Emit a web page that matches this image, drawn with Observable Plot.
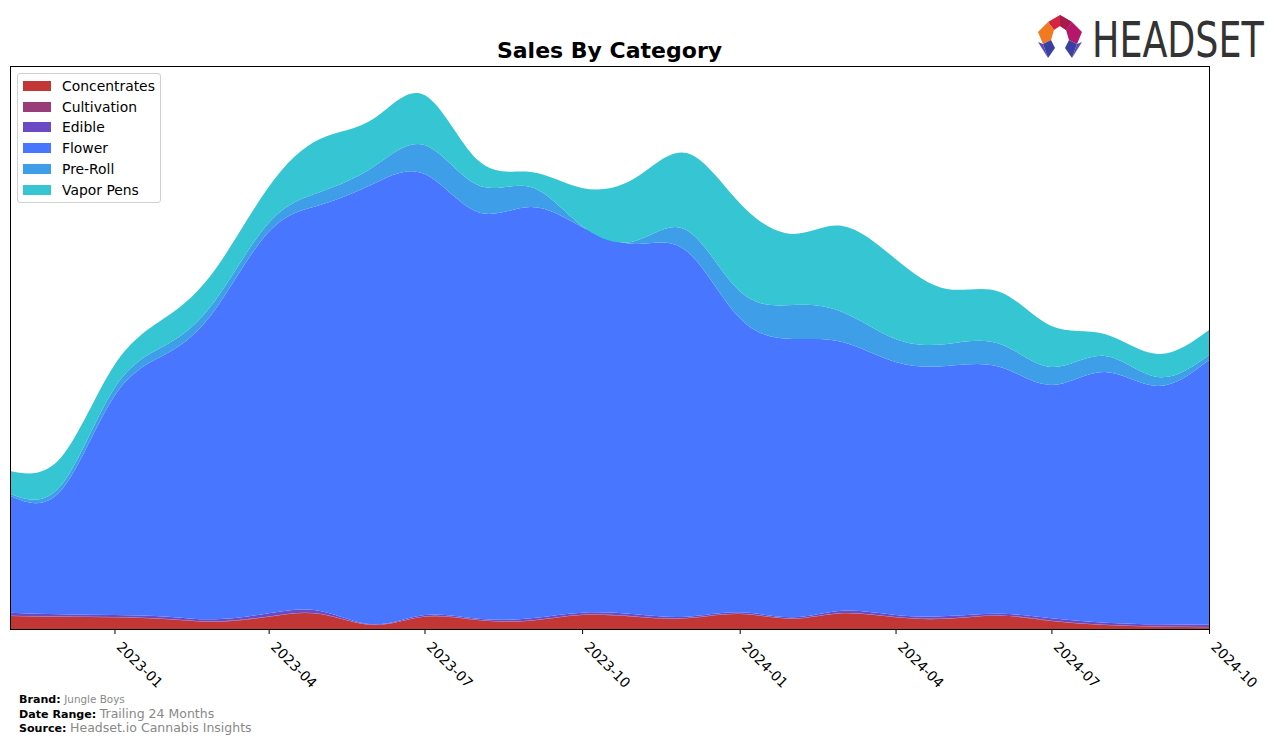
<!DOCTYPE html>
<html>
<head>
<meta charset="utf-8">
<script src="https://cdn.jsdelivr.net/npm/d3@7"></script>
<script src="https://cdn.jsdelivr.net/npm/@observablehq/plot@0.6"></script>
<style>
  html, body { margin: 0; padding: 0; background: #fff; }
  #wrap { position: relative; width: 1276px; height: 743px; font-family: "DejaVu Sans", sans-serif; overflow: hidden; }
  #chart { position: absolute; left: 0; top: 0; }
  #title { position: absolute; left: 10px; width: 1199px; top: 39px; line-height: 24px; text-align: center; font-weight: bold; font-size: 22px; color: #000; }
  #legend { position: absolute; left: 17px; top: 73px; width: 142px; height: 128px; border: 1px solid #d0d0d0; border-radius: 3px; background: rgba(255,255,255,0.85); }
  .lg-row { position: absolute; left: 5px; height: 16px; font-size: 13.9px; line-height: 16px; color: #000; white-space: nowrap; }
  .lg-sw { position: absolute; left: 0; top: 3px; width: 28px; height: 10px; }
  .lg-tx { position: absolute; left: 39px; top: 0; }
  #footer { position: absolute; left: 19px; top: 693px; font-size: 11.1px; line-height: 13.5px; color: #000; }
  #footer b { font-weight: bold; }
  #footer .g { color: #888; }
  #logo { position: absolute; left: 1030px; top: 8px; }
</style>
</head>
<body>
<div id="wrap">
  <div id="chart"></div>
  <div id="title">Sales By Category</div>
  <div id="legend"></div>
  <div id="footer">
    <div><b>Brand:</b> <span class="g" style="font-size:10.4px">Jungle Boys</span></div>
    <div><b>Date Range:</b> <span class="g" style="font-size:12.5px">Trailing 24 Months</span></div>
    <div><b>Source:</b> <span class="g" style="font-size:12.5px">Headset.io Cannabis Insights</span></div>
  </div>
  <svg id="logo" width="246" height="60" viewBox="0 0 246 60">
    <g transform="translate(6,4)">
      <polygon points="12,10 24,3 36,10 30,18 24,14 18,18" fill="#d4243f"/>
      <polygon points="24,3 36,10 30,18 24,14" fill="#a61c4f"/>
      <polygon points="36,10 46,20 41,32 33,28 30,18" fill="#b5186b"/>
      <polygon points="12,10 18,18 15,28 7,32 2,20" fill="#f07a22"/>
      <polygon points="7,32 15,28 19,36 12,46" fill="#3b3f9e"/>
      <polygon points="2,30 7,32 12,46" fill="#5a4bb8"/>
      <polygon points="41,32 33,28 29,36 36,46" fill="#3b3f9e"/>
      <polygon points="46,30 41,32 36,46" fill="#5a4bb8"/>
    </g>
    <text transform="translate(62,49) scale(0.81,1)" x="0" y="0" font-family="'Liberation Sans Narrow','DejaVu Sans Condensed',sans-serif" font-size="50" fill="#333">HEADSET</text>
  </svg>
</div>
<script>
const categories = ["Concentrates", "Cultivation", "Edible", "Flower", "Pre-Roll", "Vapor Pens"];
const colors = ["#c23636", "#993d78", "#6a4bc4", "#4876ff", "#3e9fe8", "#35c5d3"];
const months = ["2022-11","2022-12","2023-01","2023-02","2023-03","2023-04","2023-05","2023-06","2023-07","2023-08","2023-09","2023-10",
                "2023-11","2023-12","2024-01","2024-02","2024-03","2024-04","2024-05","2024-06","2024-07","2024-08","2024-09","2024-10"];
const concentrates = [13, 12.3, 11.7, 9.7, 7.3, 12.3, 15, 4, 12.3, 9, 8.3, 14, 12.3, 10.7, 15, 10.3, 15.7, 11.7, 10.3, 13.3, 8, 4, 2.3, 1.7];
const cultivation  = [0.3, 0.3, 0.3, 0.3, 0.3, 0.3, 0.3, 0.2, 0.3, 0.3, 0.3, 0.3, 0.3, 0.3, 0.3, 0.3, 0.3, 0.3, 0.3, 0.3, 0.3, 0.3, 0.3, 0.3];
const edible       = [3, 2.1, 2, 2.3, 2.1, 3.1, 2.7, 0.5, 1.4, 1, 2.1, 2, 2.1, 1.3, 1.4, 1.1, 2.3, 2, 2.4, 1.7, 2.4, 2, 2.1, 2.3];
const flower       = [116.7, 124.3, 219, 263.7, 310.3, 381.3, 406, 440.3, 441, 406.7, 411.3, 385.7, 370.3, 365.7, 294.3, 278.3, 268.7, 253, 250, 246.7, 233.3, 250.7, 238.3, 264.7];
const preRoll      = [2, 5, 8, 9, 9, 9, 13, 17, 29, 27, 20, 1, 3, 21, 27, 34, 30, 23, 22, 23, 18, 16, 9, 5];
const vaporPens    = [23, 28, 23, 28, 31, 36, 53, 48, 50, 25, 15, 38, 63, 77, 88, 71, 86, 80, 55, 52, 41, 22, 23, 25];
const tickLabels = ["2023-01","2023-04","2023-07","2023-10","2024-01","2024-04","2024-07","2024-10"];

const series = [concentrates, cultivation, edible, flower, preRoll, vaporPens];
const parse = d3.utcParse("%Y-%m");
const data = [];
categories.forEach((c, ci) => {
  months.forEach((m, i) => data.push({date: parse(m), category: c, value: series[ci][i]}));
});
const tickDates = tickLabels.map(parse);

const chart = Plot.plot({
  width: 1276,
  height: 743,
  marginLeft: 10,
  marginRight: 67,
  marginTop: 66,
  marginBottom: 114,
  style: {fontFamily: "DejaVu Sans, sans-serif", fontSize: "14px", color: "#000", background: "transparent"},
  x: {type: "utc", domain: [parse(months[0]), parse(months[months.length - 1])]},
  y: {domain: [0, 563], axis: null},
  color: {domain: categories, range: colors},
  marks: [
    Plot.areaY(data, {x: "date", y: "value", fill: "category", z: "category", order: categories, curve: "natural"}),
    Plot.axisX({ticks: tickDates, tickSize: 5, tickFormat: () => "", label: null}),
    Plot.axisX({ticks: tickDates, tickSize: 0, tickPadding: 8, tickFormat: d3.utcFormat("%Y-%m"), tickRotate: 45, fontSize: 13.9, label: null, textAnchor: "start", dx: 4, dy: 7}),
    Plot.frame({stroke: "#000", strokeWidth: 1})
  ]
});
document.getElementById("chart").appendChild(chart);

const legend = document.getElementById("legend");
categories.forEach((c, i) => {
  const row = document.createElement("div");
  row.className = "lg-row";
  row.style.top = (4 + i * 20.7) + "px";
  row.innerHTML = `<span class="lg-sw" style="background:${colors[i]}"></span><span class="lg-tx">${c}</span>`;
  legend.appendChild(row);
});
</script>
</body>
</html>
